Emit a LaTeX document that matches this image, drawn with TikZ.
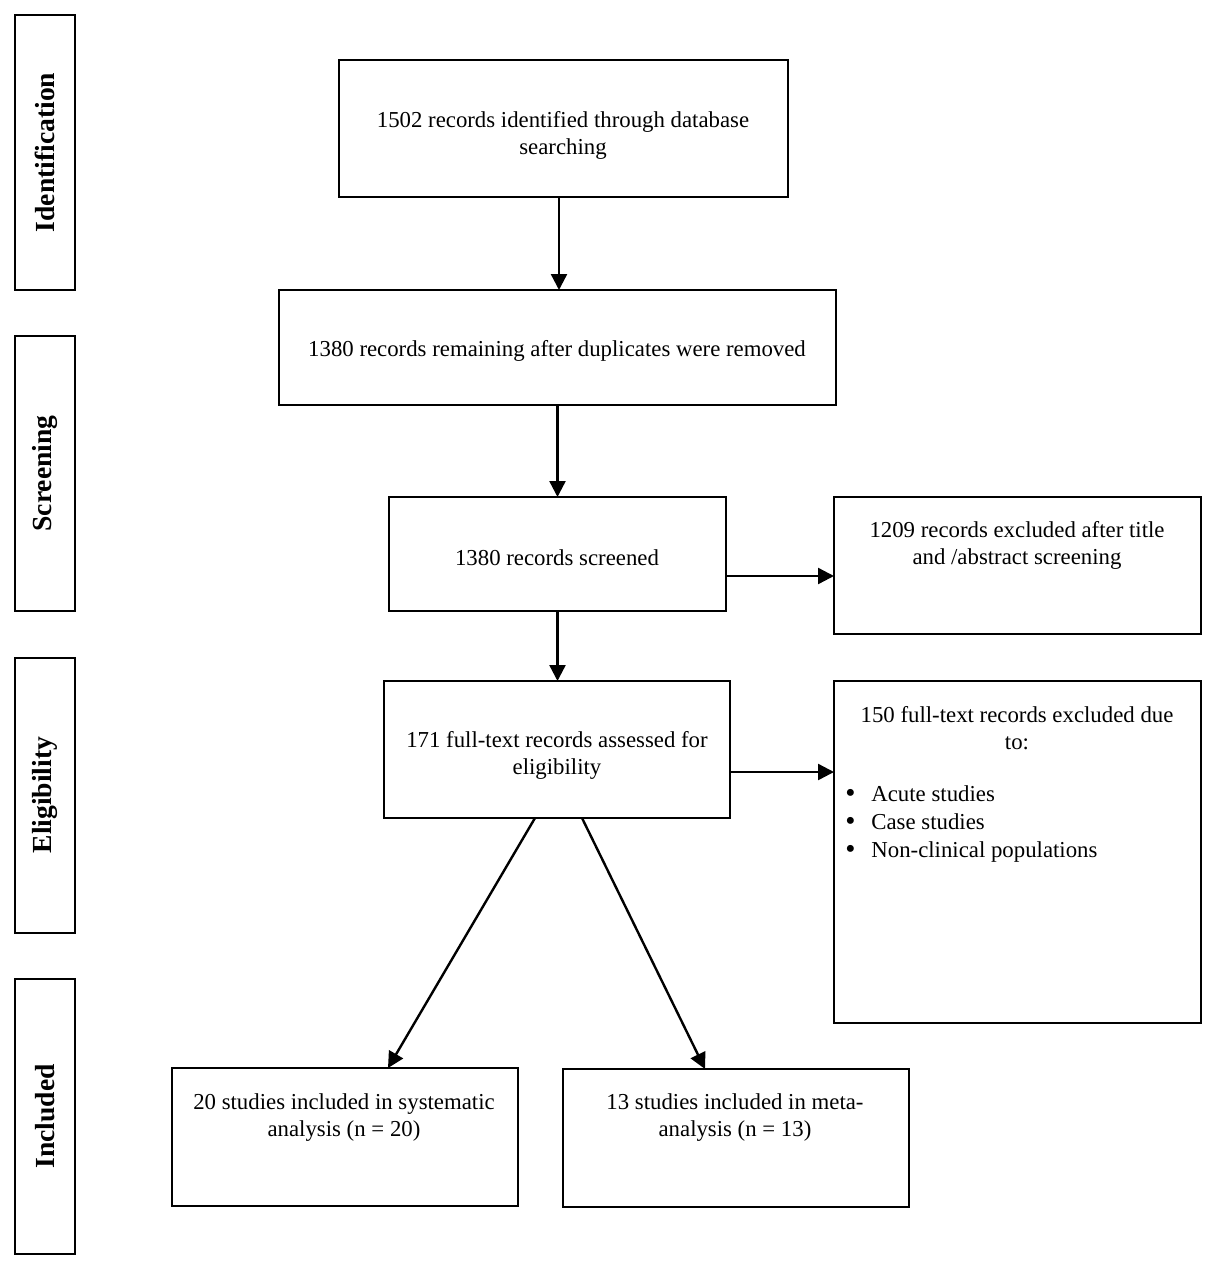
\documentclass[tikz,border=0pt]{standalone}
\usepackage{fontspec}
\setmainfont{Liberation Serif}
\usetikzlibrary{arrows.meta}
\newcommand{\bulitem}{\makebox[13pt][l]{\raisebox{-0.6pt}{\fontsize{14.5}{14}\selectfont •}}}
\begin{document}
\begin{tikzpicture}[x=0.5pt,y=-0.5pt,
  box/.style={draw, line width=1pt, inner sep=0pt, outer sep=0pt, align=center},
  txt/.style={inner sep=0pt, align=center},
  phase/.style={draw, line width=1pt, inner sep=0pt, outer sep=0pt, rotate=90,
     minimum width=137.5pt, minimum height=30pt, font=\bfseries\fontsize{13.8}{16}\selectfont},
  arr/.style={line width=1.2pt, -{Triangle[length=8pt,width=8pt]}},
  every node/.append style={font=\fontsize{11.4}{13.5}\selectfont}
]
\useasboundingbox (0,0) rectangle (1224,1280);
% phase labels
\node[phase] (p1) at (45,152.5) {Identification};
\node[phase] (p2) at (45,473.5) {Screening};
\node[phase] (p3) at (45,795) {Eligibility};
\node[phase] (p4) at (45,1116.5) {Included};
% boxes
\node[box, minimum width=224.5pt, minimum height=68.5pt] (b1) at (563.5,128.5) {};
\node[txt] (t1) at (563,135.5) {1502 records identified through database\\searching};
\node[box, minimum width=278.5pt, minimum height=57.5pt] (b2) at (557.5,347.5) {};
\node[txt] (t2) at (557,351) {1380 records remaining after duplicates were removed};
\node[box, minimum width=168.5pt, minimum height=57pt] (b3) at (557.5,554) {};
\node[txt] (t3) at (557,558) {1380 records screened};
\node[box, minimum width=183.5pt, minimum height=68.5pt] (b4) at (1017.5,565.5) {};
\node[txt] (t4) at (1017,545.5) {1209 records excluded after title\\and /abstract screening};
\node[box, minimum width=173pt, minimum height=68.5pt] (b5) at (557,749.5) {};
\node[txt] (t5) at (557,755) {171 full-text records assessed for\\eligibility};
\node[box, minimum width=183.5pt, minimum height=171pt] (b6) at (1017.5,852) {};
\node[txt] (t6) at (1017,728.5) {150 full-text records excluded due\\to:};
\node[txt, anchor=west, align=left, font=\fontsize{11.4}{14}\selectfont] (v1) at (845,824) {\bulitem Acute studies\\\bulitem Case studies\\\bulitem Non-clinical populations};
\node[box, minimum width=173pt, minimum height=69pt] (b7) at (345,1137) {};
\node[txt] (t7) at (344,1118) {20 studies included in systematic\\analysis (n = 20)};
\node[box, minimum width=173pt, minimum height=69pt] (b8) at (736,1138) {};
\node[txt] (t8) at (735,1118) {13 studies included in meta-\\analysis (n = 13)};
% arrows
\draw[arr] ([xshift=-2.25pt]b1.south) -- ([xshift=-2.25pt]b1.south |- b2.north);
\draw[arr] (b2.south) -- (b2.south |- b3.north);
\draw[arr] (b3.south) -- (b3.south |- b5.north);
\draw[arr] ([yshift=-11pt]b3.east) -- ([yshift=-11pt]b3.east -| b4.west);
\draw[arr] ([yshift=-11.25pt]b5.east) -- ([yshift=-11.25pt]b5.east -| b6.west);
\draw[arr] ([xshift=-11pt]b5.south) -- ([xshift=21.5pt]b7.north);
\draw[arr] ([xshift=12.5pt]b5.south) -- ([xshift=-15.5pt]b8.north);
\end{tikzpicture}
\end{document}
